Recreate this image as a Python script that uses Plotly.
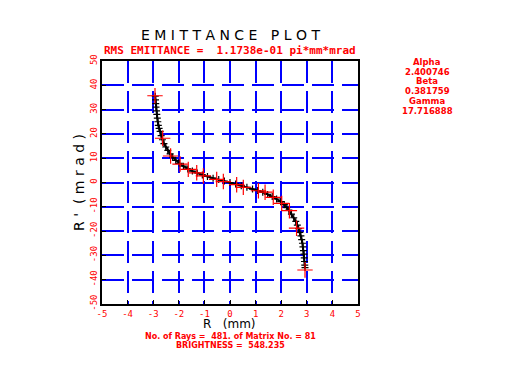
import plotly.graph_objects as go

# ---- data ----
ray_r = [-2.92, -2.91, -2.90, -2.89, -2.87, -2.86, -2.84, -2.82, -2.80, -2.77,
         -2.73, -2.69, -2.64, -2.58, -2.51, -2.43, -2.34, -2.24, -2.12, -1.98,
         -1.82, -1.65, -1.47, -1.28, -1.08, -0.88, -0.66, -0.44, -0.22, 0.00,
         0.22, 0.44, 0.66, 0.88, 1.08, 1.28, 1.47, 1.65, 1.82, 1.98,
         2.12, 2.22, 2.30, 2.40, 2.49, 2.57, 2.63, 2.68, 2.73, 2.77,
         2.80, 2.83, 2.85, 2.87, 2.89, 2.90, 2.91, 2.92, 2.93]
ray_rp = [35.5, 34.0, 32.5, 31.0, 29.5, 28.0, 26.5, 25.0, 23.5, 22.3,
          21.0, 19.3, 17.6, 16.0, 14.6, 13.2, 11.8, 10.4, 9.1, 7.9,
          6.7, 5.6, 4.7, 3.9, 3.1, 2.5, 1.8, 1.2, 0.6, 0.0,
          -0.6, -1.3, -2.0, -2.7, -3.3, -4.0, -4.9, -5.8, -6.8, -7.9,
          -9.1, -10.3, -11.4, -13.0, -14.5, -16.0, -17.5, -19.0, -20.5, -22.0,
          -23.5, -25.0, -26.5, -28.0, -29.5, -31.0, -32.5, -34.0, -35.0]

mark_r = [-2.93, -2.63, -2.32, -1.95, -1.63, -1.30, -1.04, -0.52, -0.26, 0.26,
          0.52, 1.11, 1.37, 1.69, 2.02, 2.32, 2.60, 2.93]
mark_rp = [35.7, 18.2, 10.9, 7.6, 5.4, 4.0, 2.7, 1.3, 0.4, -0.9,
           -2.0, -3.4, -4.0, -6.1, -8.6, -11.6, -18.8, -36.0]

x_ticks = [-5, -4, -3, -2, -1, 0, 1, 2, 3, 4, 5]
y_ticks = [-50, -40, -30, -20, -10, 0, 10, 20, 30, 40, 50]

title_text = "E M I T T A N C E   P L O T"
rms_text = "RMS EMITTANCE =  1.1738e-01 pi*mm*mrad"
twiss_lines = ["Alpha", "2.400746", "Beta", "0.381759", "Gamma", "17.716888"]
rays_text = "No. of Rays =  481. of Matrix No. = 81"
bright_text = "BRIGHTNESS =  548.235"

# ---- layout geometry (page pixels); page body has an 8px margin ----
W, H = 511, 365
OFF = 8
L, R, T, B = 102, 358, 61, 304

def px(x):
    return (x - L) / (R - L)

def py(y):
    return (B - y) / (B - T)

RED = "#ff0000"
BLUE = "#0000ff"
MONO = "DejaVu Sans Mono"

fig = go.Figure()
fig.add_trace(go.Scatter(
    x=ray_r, y=ray_rp, mode="lines+markers",
    line=dict(color="black", width=2),
    marker=dict(symbol="cross-thin", size=5, line=dict(color="black", width=1.2)),
    hoverinfo="skip", showlegend=False))
fig.add_trace(go.Scatter(
    x=mark_r, y=mark_rp, mode="markers",
    marker=dict(symbol="cross-thin", size=11, line=dict(color=RED, width=1.2)),
    hoverinfo="skip", showlegend=False))

axis_common = dict(
    showline=True, linecolor="black", linewidth=1.5, mirror=True,
    showgrid=True, gridcolor=BLUE, gridwidth=2, griddash="22px,8px",
    zeroline=False, ticks="inside", ticklen=4, tickcolor="black",
    tickfont=dict(family=MONO, size=9, color=RED),
)
fig.update_layout(
    width=W - OFF, height=H - OFF,
    margin=dict(l=L - OFF, r=W - R, t=T - OFF, b=H - B),
    paper_bgcolor="white", plot_bgcolor="white",
    xaxis=dict(range=[-5, 5], tickvals=x_ticks, ticktext=[str(v) for v in x_ticks],
               **axis_common),
    yaxis=dict(range=[-50, 50], tickvals=y_ticks, ticktext=[str(v) for v in y_ticks],
               tickangle=-90, **axis_common),
)

ann = []
def add(text, x, y, size, color, family, angle=0, bold=False):
    t = f"<b>{text}</b>" if bold else text
    ann.append(dict(text=t, x=px(x), y=py(y), xref="paper", yref="paper",
                    showarrow=False, xanchor="center", yanchor="middle",
                    textangle=angle,
                    font=dict(size=size, color=color, family=family)))

add(title_text, 230, 35, 14, "black", "DejaVu Sans")
add(rms_text, 230, 51, 11, RED, MONO, bold=True)
for i, s in enumerate(twiss_lines):
    add(s, 427, 62 + i * 9.7, 8.5, RED, "DejaVu Sans", bold=True)
add("R '  ( m r a d )", 79, 183, 14, "black", "DejaVu Sans", angle=-90)
add("R   (mm)", 229, 324, 12, "black", "DejaVu Sans")
add(rays_text, 230, 336, 8, RED, "DejaVu Sans", bold=True)
add(bright_text, 230, 345.5, 8, RED, "DejaVu Sans", bold=True)
fig.update_layout(annotations=ann)

fig.write_html("out.html")
